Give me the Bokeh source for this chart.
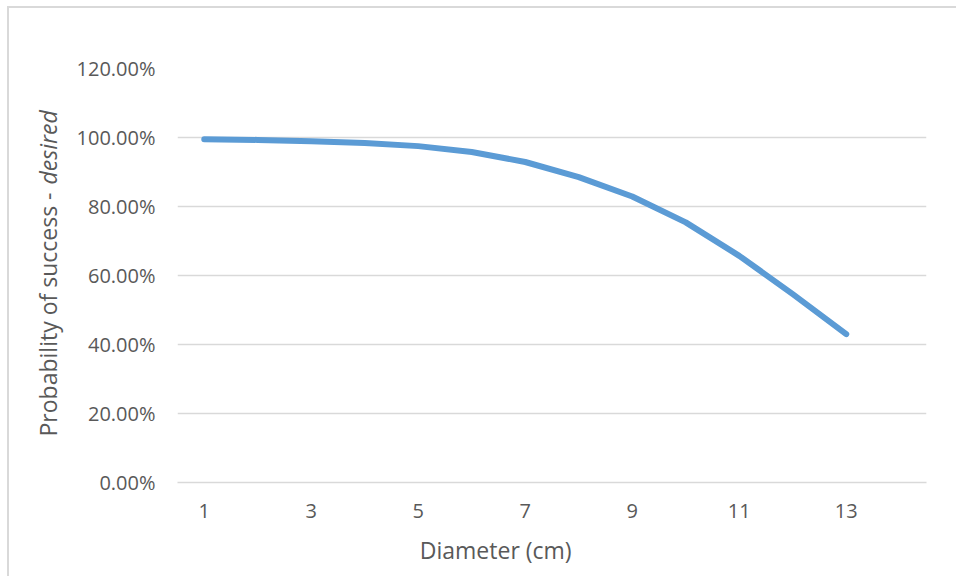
import math
from bokeh.plotting import figure
from bokeh.models import Label, NumeralTickFormatter, FixedTicker, Range1d
from bokeh.embed import file_html
from bokeh.resources import INLINE

# ---- data ----
diameter_cm = [1, 2, 3, 4, 5, 6, 7, 8, 9, 10, 11, 12, 13]
prob_success = [0.995, 0.993, 0.989, 0.984, 0.975, 0.958, 0.929,
                0.885, 0.829, 0.754, 0.657, 0.546, 0.430]
x_tick_values = [1, 3, 5, 7, 9, 11, 13]
y_tick_values = [0.0, 0.2, 0.4, 0.6, 0.8, 1.0, 1.2]
x_title = "Diameter (cm)"
y_title_plain = "Probability of success -"
y_title_italic = "desired"

FONT = "Open Sans"
TEXT_COLOR = "#595959"
GRID_COLOR = "#d9d9d9"
LINE_COLOR = "#5b9bd5"

p = figure(width=949, height=570,
           x_range=Range1d(0.5, 14.5), y_range=Range1d(0, 1.2),
           output_backend="svg", toolbar_location=None,
           min_border_left=168, min_border_right=29,
           min_border_top=60, min_border_bottom=96)
p.styles = {"margin-left": "7px", "margin-top": "6px",
            "border-left": f"2px solid {GRID_COLOR}",
            "border-top": f"2px solid {GRID_COLOR}"}
p.outline_line_color = None
p.background_fill_color = "white"
p.border_fill_color = "white"

p.line(diameter_cm, prob_success, line_width=6, line_color=LINE_COLOR,
       line_cap="round", line_join="round")

# x axis
xa = p.xaxis[0]
xa.ticker = FixedTicker(ticks=x_tick_values)
xa.axis_line_color = GRID_COLOR
xa.axis_line_width = 1.5
xa.major_tick_line_color = None
xa.minor_tick_line_color = None
xa.major_label_text_font = FONT
xa.major_label_text_font_size = "20px"
xa.major_label_text_color = TEXT_COLOR
xa.major_label_standoff = 15

# y axis
ya = p.yaxis[0]
ya.ticker = FixedTicker(ticks=y_tick_values)
ya.formatter = NumeralTickFormatter(format="0.00%")
ya.axis_line_color = None
ya.major_tick_line_color = None
ya.minor_tick_line_color = None
ya.major_label_text_font = FONT
ya.major_label_text_font_size = "20px"
ya.major_label_text_color = TEXT_COLOR
ya.major_label_standoff = 16

p.xgrid.grid_line_color = None
p.ygrid.grid_line_color = GRID_COLOR
p.ygrid.grid_line_width = 1.5

# axis titles as labels in the side panels (y title has an italic part)
p.add_layout(Label(x=6.448, y=-0.196, text=x_title, text_font=FONT,
                   text_font_size="23px", text_color=TEXT_COLOR,
                   text_align="center", text_baseline="middle"), "below")
p.add_layout(Label(x=-1.92, y=0.8406, text=y_title_plain, angle=math.pi / 2,
                   text_font=FONT, text_font_size="23px", text_color=TEXT_COLOR,
                   text_align="right", text_baseline="alphabetic"), "left")
p.add_layout(Label(x=-1.92, y=0.8638, text=y_title_italic, angle=math.pi / 2,
                   text_font=FONT, text_font_size="23px", text_color=TEXT_COLOR,
                   text_font_style="italic",
                   text_align="left", text_baseline="alphabetic"), "right")

open("out.html", "w").write(file_html(p, INLINE))
